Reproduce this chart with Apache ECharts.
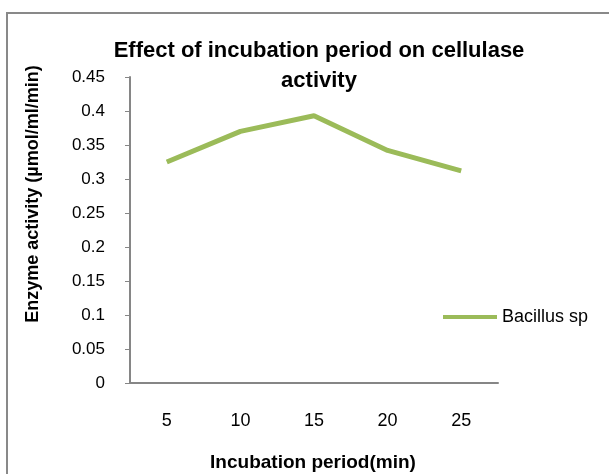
<!DOCTYPE html>
<html><head><meta charset="utf-8">
<script src="https://cdn.jsdelivr.net/npm/echarts@6/dist/echarts.min.js"></script>
<style>html,body{margin:0;padding:0;background:#fff}#c{width:609px;height:474px}</style>
</head><body><div id="c"></div>
<script>
const categories = ['5', '10', '15', '20', '25'];
const bacillus = [0.325, 0.37, 0.393, 0.342, 0.312];
const yTicks = { min: 0, max: 0.45, interval: 0.05 };
const seriesName = 'Bacillus sp';
const titleText = 'Effect of incubation period on cellulase\nactivity';
const yName = 'Enzyme activity (µmol/ml/min)';
const xName = 'Incubation period(min)';

const sans = "'Liberation Sans', Arial, sans-serif";
const chart = echarts.init(document.getElementById('c'), null, {renderer: 'canvas'});
chart.setOption({
  animation: false,
  backgroundColor: '#fff',
  title: {
    text: titleText, left: 314, top: 31, textAlign: 'center',
    textStyle: { fontFamily: sans, fontWeight: 'bold', fontSize: 22, color: '#000', lineHeight: 30 }
  },
  legend: {
    data: [seriesName], left: 443, top: 308, padding: 0, itemWidth: 54, itemHeight: 4, itemGap: 5,
    icon: 'rect',
    textStyle: { fontFamily: sans, fontSize: 18, color: '#000', padding: [0, 0, 0, 0] }
  },
  grid: { left: 130, top: 77, right: 111, bottom: 91 },
  xAxis: {
    type: 'category', data: categories, boundaryGap: true,
    axisLine: { lineStyle: { color: '#868686', width: 2 } },
    axisTick: { show: false },
    axisLabel: { margin: 29, fontFamily: sans, fontSize: 18, color: '#000' }
  },
  yAxis: {
    type: 'value', min: yTicks.min, max: yTicks.max, interval: yTicks.interval,
    axisLine: { show: true, lineStyle: { color: '#868686', width: 2 } },
    axisTick: { show: true, length: 5, lineStyle: { color: '#868686' } },
    splitLine: { show: false },
    axisLabel: { margin: 25, fontFamily: sans, fontSize: 17, color: '#000',
      formatter: v => String(parseFloat(v.toFixed(2))) }
  },
  series: [{
    name: seriesName, type: 'line', data: bacillus, symbol: 'none',
    lineStyle: { color: '#9BBB59', width: 5 }, itemStyle: { color: '#9BBB59' }
  }],
  graphic: [
    { type: 'rect', shape: { x: 7, y: 13, width: 620, height: 480 }, style: { fill: 'none', stroke: '#898989', lineWidth: 2 }, z: -1 },
    { type: 'text', x: 33, y: 194, rotation: Math.PI / 2,
      style: { text: yName, fontFamily: sans, fontWeight: 'bold', fontSize: 18, fill: '#000', textAlign: 'center', textVerticalAlign: 'middle' } },
    { type: 'text', x: 313, y: 463,
      style: { text: xName, fontFamily: sans, fontWeight: 'bold', fontSize: 19, fill: '#000', textAlign: 'center', textVerticalAlign: 'middle' } }
  ]
});
</script></body></html>
